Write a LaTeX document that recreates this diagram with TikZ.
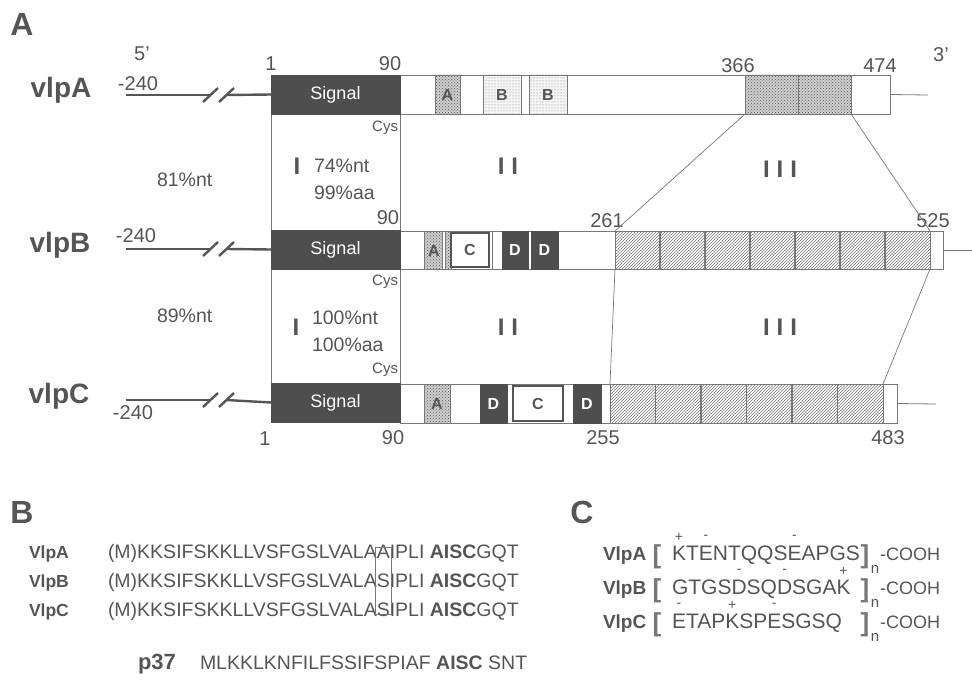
\documentclass[tikz,border=0pt]{standalone}
\usepackage{fontspec}
\setmainfont{Liberation Sans}
\usetikzlibrary{patterns}
\definecolor{ink}{RGB}{85,85,85}
\definecolor{sig}{RGB}{78,78,78}
\definecolor{lin}{RGB}{120,120,120}
\newcommand{\fsz}[1]{\fontsize{#1}{#1}\selectfont}
\newcommand{\gbox}[7]{\node[#6, minimum width={(#4-#2)*1pt}, minimum height={(#5-#3)*1pt}, anchor=north west] (#1) at (#2,#3) {#7};}
\begin{document}
\begin{tikzpicture}[x=1pt,y=-1pt,
  every node/.style={text=ink, inner sep=0, outer sep=0},
  bx/.style={draw=lin, line width=0.8pt},
  sigbox/.style={fill=sig, draw=sig, text=white, font=\fsz{18}},
  dbox/.style={fill=sig, draw=sig, text=white, font=\bfseries\fsz{16}},
  abox/.style={bx, preaction={fill=gray!38}, pattern=crosshatch dots, pattern color=ink, font=\bfseries\fsz{16}},
  bbox/.style={bx, preaction={fill=gray!8}, pattern=dots, pattern color=lin, font=\bfseries\fsz{16}},
  cbox/.style={draw=ink, line width=2pt, fill=white, font=\bfseries\fsz{16}},
  hbox/.style={bx, pattern=north east lines, pattern color=lin},
  wbox/.style={bx, fill=white},
  num/.style={font=\fsz{20}},
  gname/.style={font=\bfseries\fsz{28}},
  panel/.style={font=\bfseries\fsz{32}},
  pct/.style={font=\fsz{19.5}, anchor=west},
  cys/.style={font=\fsz{15}, anchor=east},
  roman/.style={font=\bfseries\fsz{24}},
  gl/.style={draw=ink, line width=2.4pt},
  tl/.style={draw=lin, line width=0.8pt},
  conn/.style={draw=lin, line width=0.7pt},
  div/.style={draw=lin, line width=1.1pt},
  seq/.style={font=\fsz{19.5}, anchor=base west},
  sname/.style={font=\bfseries\fsz{17.5}, anchor=base west},
  cseq/.style={font=\fsz{21}, anchor=base west},
  cname/.style={font=\bfseries\fsz{19}, anchor=base west},
  chg/.style={font=\fsz{14}},
  brk/.style={font=\bfseries\fsz{26}, text=lin},
  cooh/.style={font=\fsz{18}, anchor=base west},
  sub/.style={font=\fsz{15}}
]
\useasboundingbox (0,0) rectangle (972,693);
\node[panel] (pA) at (22,24) {A};

% ---------- region boxes between rows
\gbox{R1}{271}{114}{400}{230}{bx}{}
\gbox{R2}{271}{269}{400}{383}{bx}{}

% ---------- vlpA
\node[gname] (nA) at (61,90) {vlpA};
\node[num] (A5p) at (142,54) {5'};
\node[num] (A3p) at (941,55) {3'};
\node[num] (Am240) at (138,84) {-240};
\gbox{Aout}{400}{75}{890}{114}{wbox}{}
\gbox{Asig}{271}{75}{400}{114}{sigbox}{Signal}
\gbox{AA}{435}{75}{460}{114}{abox}{A}
\gbox{AB1}{483}{75}{521}{114}{bbox}{B}
\gbox{AB2}{529}{75}{567}{114}{bbox}{B}
\gbox{Arep1}{745}{75}{798}{114}{abox}{}
\gbox{Arep2}{798}{75}{851}{114}{abox}{}
\coordinate (A0) at (126,95);
\coordinate (Ak1) at (210,95);
\coordinate (Ak2) at (226,95);
\draw[gl] (A0) -- (Ak1);
\draw[gl] (Ak2) -- (Asig.west);
\draw[gl] ([shift={(-7,7)}]Ak1) -- ([shift={(8,-7)}]Ak1);
\draw[gl] ([shift={(-7,7)}]Ak2) -- ([shift={(8,-7)}]Ak2);
\coordinate (Aend) at (928,95);
\draw[tl] (Aout.east) -- (Aend);
\node[num] (A1) at (271,64) {1};
\node[num] (A90) at (390,64) {90};
\node[num] (A366) at (738,66) {366};
\node[num] (A474) at (880,66) {474};

% ---------- region I/II/III between A and B
\node[cys] (cys1) at (398,128) {Cys};
\node[roman] (r1a) at (297,166) {I};
\node[pct] (p74) at (314,166) {74\%nt};
\node[pct] (p99) at (314,193) {99\%aa};
\node[num, anchor=east] (B90) at (399,218) {90};
\node[roman] (r2a) at (508,166) {I\hspace{7pt}I};
\node[roman] (r3a) at (780,169) {I\hspace{7pt}I\hspace{7pt}I};
\node[pct] (p81) at (157,180) {81\%nt};

% ---------- vlpB
\node[gname] (nB) at (60,245) {vlpB};
\node[num] (Bm240) at (136,236) {-240};
\gbox{Bout}{400}{231}{943}{269}{wbox}{}
\gbox{Bsig}{271}{230}{400}{269}{sigbox}{Signal}
\gbox{BA1}{424}{231}{442}{269}{abox}{}
\gbox{BA2}{445}{231}{451}{269}{abox}{}
\node[font=\bfseries\fsz{16}] (BAl) at (434,251) {A};
\gbox{BC}{451}{233}{489}{267}{cbox}{C}
\gbox{Bs}{492}{231}{502}{269}{wbox}{}
\gbox{BD1}{502}{231}{528}{269}{dbox}{D}
\gbox{BD2}{531}{231}{558}{269}{dbox}{D}
\gbox{Brep}{615}{231}{930}{269}{hbox}{}
\foreach \i in {1,...,6} {\draw[div] (615+45*\i,231) -- (615+45*\i,269);}
\coordinate (B0) at (126,249);
\coordinate (Bk1) at (210,249);
\coordinate (Bk2) at (226,249);
\draw[gl] (B0) -- (Bk1);
\draw[gl] (Bk2) -- (Bsig.west);
\draw[gl] ([shift={(-7,7)}]Bk1) -- ([shift={(8,-7)}]Bk1);
\draw[gl] ([shift={(-7,7)}]Bk2) -- ([shift={(8,-7)}]Bk2);
\coordinate (Bend) at (972,250);
\draw[tl] (Bout.east) -- (Bend);
\node[num] (B261) at (607,221) {261};
\node[num] (B525) at (933,221) {525};
\node[cys] (cys2) at (398,282) {Cys};

% ---------- region between B and C
\node[pct] (p89) at (157,316) {89\%nt};
\node[roman] (r1b) at (296,327) {I};
\node[pct] (p100n) at (312,318) {100\%nt};
\node[pct] (p100a) at (312,345) {100\%aa};
\node[cys] (cys3) at (398,370) {Cys};
\node[roman] (r2b) at (508,327) {I\hspace{7pt}I};
\node[roman] (r3b) at (780,327) {I\hspace{7pt}I\hspace{7pt}I};

% ---------- vlpC
\node[gname] (nC) at (59,396) {vlpC};
\node[num] (Cm240) at (133,413) {-240};
\gbox{Cout}{400}{384}{897}{423}{wbox}{}
\gbox{Csig}{271}{383}{400}{422}{sigbox}{Signal}
\gbox{CA}{424}{384}{450}{423}{abox}{A}
\gbox{CD1}{480}{384}{507}{423}{dbox}{D}
\gbox{CC}{513}{386}{563}{421}{cbox}{C}
\gbox{CD2}{573}{384}{601}{423}{dbox}{D}
\gbox{Crep}{610}{384}{883}{423}{hbox}{}
\foreach \i in {1,...,5} {\draw[div] (610+45.5*\i,384) -- (610+45.5*\i,423);}
\coordinate (C0) at (126,400);
\coordinate (Ck1) at (210,400);
\coordinate (Ck2) at (226,400);
\draw[gl] (C0) -- (Ck1);
\draw[gl] (Ck2) -- (Csig.west);
\draw[gl] ([shift={(-7,7)}]Ck1) -- ([shift={(8,-7)}]Ck1);
\draw[gl] ([shift={(-7,7)}]Ck2) -- ([shift={(8,-7)}]Ck2);
\coordinate (Cend) at (936,404);
\draw[tl] (Cout.east) -- (Cend);
\node[num] (C1) at (265,439) {1};
\node[num] (C90) at (393,438) {90};
\node[num] (C255) at (603,438) {255};
\node[num] (C483) at (888,438) {483};

% ---------- connectors between repeat regions
\draw[conn] (Arep1.south west) -- (Brep.north west);
\draw[conn] (Arep2.south east) -- (Brep.north east);
\draw[conn] (Brep.south west) -- (Crep.north west);
\draw[conn] (Brep.south east) -- (Crep.north east);

% ---------- panel B
\node[panel] (pB) at (22,512) {B};
\node[sname] (sA) at (29,558) {VlpA};
\node[seq] (sA1) at (108,558) {(M)KKSIFSKKLLVSFGSLVALA};
\node[seq] (sAx) at (sA1.base east) {A};
\node[seq] (sA2) at (sAx.base east) {IPLI \textbf{AISC}GQT};
\node[sname] (sB) at (29,587) {VlpB};
\node[seq] (sB1) at (108,587) {(M)KKSIFSKKLLVSFGSLVALA};
\node[seq] (sBx) at (sB1.base east) {S};
\node[seq] (sB2) at (sBx.base east) {IPLI \textbf{AISC}GQT};
\node[sname] (sC) at (29,616) {VlpC};
\node[seq] (sC1) at (108,616) {(M)KKSIFSKKLLVSFGSLVALA};
\node[seq] (sCx) at (sC1.base east) {S};
\node[seq] (sC2) at (sCx.base east) {IPLI \textbf{AISC}GQT};
\draw[conn] ([shift={(-1.5,3)}]sAx.north west) rectangle ([shift={(1.5,-2)}]sCx.south east);
\node[font=\bfseries\fsz{22}, anchor=base west] (p37) at (138,669) {p37};
\node[seq] (p37s) at (200,669) {MLKKLKNFILFSSIFSPIAF \textbf{AISC} SNT};

% ---------- panel C
\node[panel] (pC) at (582,512) {C};
% VlpA
\node[cname] (cAn) at (603,560) {VlpA};
\node[brk] (cAb1) at (657,557) {[};
\node[cseq] (cA1) at (672,560) {K};
\node[cseq] (cA2) at (cA1.base east) {T};
\node[cseq] (cA3) at (cA2.base east) {E};
\node[cseq] (cA4) at (cA3.base east) {NTQQS};
\node[cseq] (cA5) at (cA4.base east) {E};
\node[cseq] (cA6) at (cA5.base east) {APGS};
\node[brk] (cAb2) at (865,557) {]};
\node[sub] (cAn2) at (875,569) {n};
\node[cooh] (cAc) at (880,560) {-COOH};
\node[chg] (cAq1) at ([yshift=8pt]cA1.north) {+};
\node[chg] (cAq2) at ([yshift=8pt]cA3.north) {-};
\node[chg] (cAq3) at ([yshift=8pt]cA5.north) {-};
% VlpB
\node[cname] (cBn) at (603,594) {VlpB};
\node[brk] (cBb1) at (657,591) {[};
\node[cseq] (cB1) at (672,594) {GTGS};
\node[cseq] (cB2) at (cB1.base east) {D};
\node[cseq] (cB3) at (cB2.base east) {SQ};
\node[cseq] (cB4) at (cB3.base east) {D};
\node[cseq] (cB5) at (cB4.base east) {SGA};
\node[cseq] (cB6) at (cB5.base east) {K};
\node[brk] (cBb2) at (865,591) {]};
\node[sub] (cBn2) at (875,603) {n};
\node[cooh] (cBc) at (880,594) {-COOH};
\node[chg] (cBq1) at ([yshift=8pt]cB2.north) {-};
\node[chg] (cBq2) at ([yshift=8pt]cB4.north) {-};
\node[chg] (cBq3) at ([yshift=8pt]cB6.north) {+};
% VlpC
\node[cname] (cCn) at (603,628) {VlpC};
\node[brk] (cCb1) at (657,625) {[};
\node[cseq] (cC1) at (672,628) {E};
\node[cseq] (cC2) at (cC1.base east) {TAP};
\node[cseq] (cC3) at (cC2.base east) {K};
\node[cseq] (cC4) at (cC3.base east) {SP};
\node[cseq] (cC5) at (cC4.base east) {E};
\node[cseq] (cC6) at (cC5.base east) {SGSQ};
\node[brk] (cCb2) at (865,625) {]};
\node[sub] (cCn2) at (875,637) {n};
\node[cooh] (cCc) at (880,628) {-COOH};
\node[chg] (cCq1) at ([yshift=8pt]cC1.north) {-};
\node[chg] (cCq2) at ([yshift=8pt]cC3.north) {+};
\node[chg] (cCq3) at ([yshift=8pt]cC5.north) {-};
\end{tikzpicture}
\end{document}
